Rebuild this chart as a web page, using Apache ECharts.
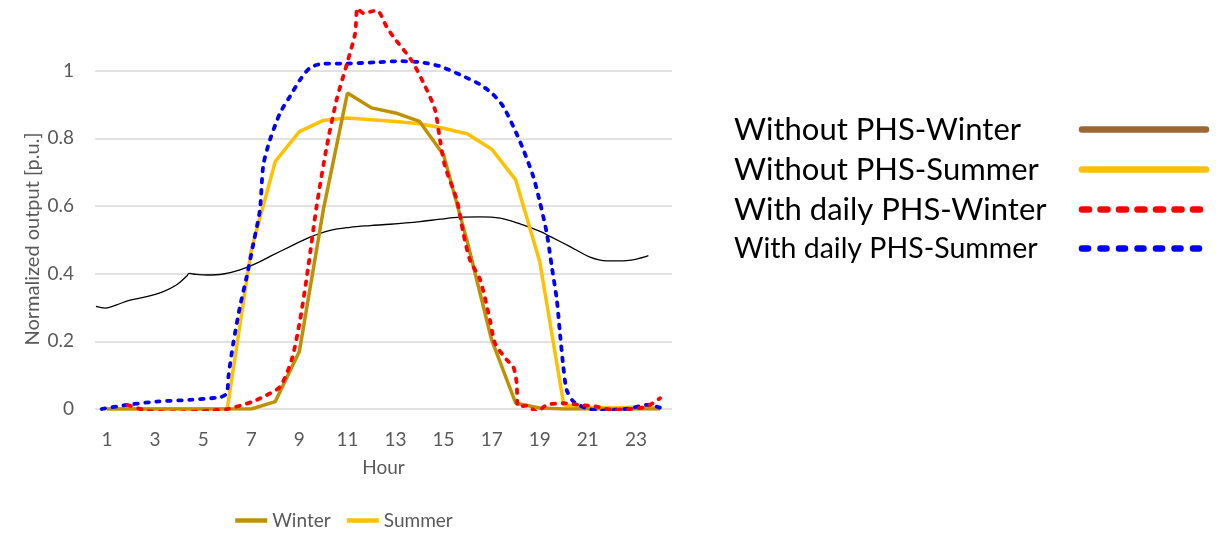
<!DOCTYPE html>
<html>
<head>
<meta charset="utf-8">
<script src="https://cdn.jsdelivr.net/npm/echarts@6/dist/echarts.min.js"></script>
<style>
html,body{margin:0;padding:0;background:#fff;}
#chart{width:1218px;height:535px;}
</style>
</head>
<body>
<div id="chart"></div>
<script>
// ---- Data ----
const hours = ['1','2','3','4','5','6','7','8','9','10','11','12','13','14','15','16','17','18','19','20','21','22','23','24'];
const yTicks = [0, 0.2, 0.4, 0.6, 0.8, 1];

const winter = [0,0,0,0,0,0,0,0.022,0.17,0.59,0.934,0.89,0.875,0.85,0.751,0.49,0.204,0.017,0.003,0,0,0,0,0];
const summer = [0,0,0,0,0,0,0.47,0.732,0.82,0.853,0.86,0.855,0.85,0.843,0.83,0.813,0.768,0.677,0.435,0.012,0.005,0.003,0.005,0.003];

// With daily PHS - Winter (dotted red), fractional hours
const redHours  = [1.86,2.72,4.04,5.56,6.02,7.07,7.64,8.2,8.68,9.03,9.37,9.72,10.14,10.55,10.97,11.32,11.42,11.66,12.22,12.63,12.91,13.67,14.23,14.64,14.85,15.06,15.55,15.82,16.1,16.52,16.93,17.14,17.63,17.9,18.04,18.1,18.46,18.87,19.29,19.98,20.68,21.37,22.06,22.76,23.45,24.0];
const redValues = [0.012,-0.006,-0.01,-0.003,0,0.022,0.041,0.066,0.145,0.263,0.42,0.6,0.776,0.914,1.018,1.11,1.185,1.17,1.178,1.13,1.1,1.03,0.954,0.885,0.796,0.717,0.618,0.52,0.44,0.382,0.263,0.194,0.145,0.125,0.076,0.007,0.01,-0.008,0.012,0.017,0.012,0.007,-0.003,0,0.007,0.032];

// With daily PHS - Summer (dotted blue), fractional hours
const blueHours  = [0.78,1.82,3.07,4.45,5.7,5.98,6.05,6.25,6.53,6.81,7.09,7.36,7.5,7.78,8.2,8.61,9.03,9.44,10.0,10.97,12.22,13.19,14.02,14.85,15.68,16.52,17.07,17.48,17.9,18.32,18.73,19.01,19.29,19.5,19.71,19.84,19.98,20.12,20.4,20.95,21.51,22.06,22.76,23.45,23.87,24.14];
const blueValues = [0,0.012,0.022,0.027,0.035,0.046,0.096,0.194,0.303,0.391,0.49,0.589,0.72,0.796,0.875,0.924,0.973,1.008,1.021,1.021,1.025,1.028,1.025,1.013,0.988,0.959,0.929,0.894,0.835,0.766,0.687,0.61,0.52,0.421,0.322,0.224,0.125,0.056,0.022,0.002,-0.005,-0.003,0.002,0.012,0.007,0];

// Thin black curve
const blackHours  = [0.54,0.92,1.4,1.96,2.65,3.34,3.9,4.32,4.41,4.59,5.15,5.84,6.53,7.23,7.78,8.61,9.44,10.28,11.11,11.94,12.77,14.02,14.85,15.68,16.52,17.35,18.18,19.01,19.43,20.26,21.09,21.79,22.48,23.03,23.52];
const blackValues = [0.303,0.298,0.308,0.322,0.332,0.347,0.367,0.393,0.401,0.399,0.396,0.399,0.411,0.431,0.451,0.48,0.508,0.528,0.537,0.542,0.546,0.554,0.561,0.567,0.568,0.564,0.547,0.525,0.51,0.48,0.449,0.438,0.438,0.443,0.453];

const rightLegendLabels = {
  'Winter': 'Without PHS-Winter',
  'Summer': 'Without PHS-Summer',
  'With daily PHS-Winter': 'With daily PHS-Winter',
  'With daily PHS-Summer': 'With daily PHS-Summer'
};

// ---- Chart ----
const zip = (xs, ys) => xs.map((x, i) => [x, ys[i]]);
const FONT = 'Lato';
const GREY = '#595959';
const HIDE_SYMBOL = {opacity: 0};

const chart = echarts.init(document.getElementById('chart'), null, {renderer: 'canvas'});
chart.setOption({
  animation: false,
  backgroundColor: '#ffffff',
  textStyle: {fontFamily: FONT},
  grid: {left: 95, right: 546, top: 3, bottom: 126, containLabel: false},
  xAxis: [
    {
      type: 'category',
      data: hours,
      boundaryGap: true,
      name: 'Hour',
      nameLocation: 'middle',
      nameGap: 49,
      nameTextStyle: {fontSize: 19, color: GREY, fontFamily: FONT},
      axisLine: {show: false},
      axisTick: {show: false},
      axisLabel: {interval: 1, fontSize: 19, color: GREY, margin: 21, fontFamily: FONT},
      splitLine: {show: false}
    },
    {
      type: 'value',
      min: 0.5,
      max: 24.5,
      show: false
    }
  ],
  yAxis: {
    type: 'value',
    min: 0,
    max: 1.2,
    interval: 0.2,
    name: 'Normalized output [p.u.]',
    nameLocation: 'middle',
    nameGap: 52,
    nameTextStyle: {fontSize: 20, color: GREY, fontFamily: FONT, padding: [0, 66, 0, 0]},
    axisLine: {show: false},
    axisTick: {show: false},
    axisLabel: {
      fontSize: 19, color: GREY, margin: 21, fontFamily: FONT,
      formatter: v => (yTicks.some(t => Math.abs(t - v) < 1e-9) ? String(+v.toFixed(1)) : '')
    },
    splitLine: {show: true, lineStyle: {color: ['#d9d9d9','#d9d9d9','#d9d9d9','#d9d9d9','#d9d9d9','#d9d9d9','rgba(0,0,0,0)'], width: 1.5}}
  },
  legend: [
    {
      data: ['Winter', 'Summer'],
      left: 228,
      top: 506,
      orient: 'horizontal',
      itemWidth: 32,
      itemHeight: 14,
      itemGap: 14,
      itemStyle: HIDE_SYMBOL,
      lineStyle: {width: 4.5},
      textStyle: {fontSize: 19, color: GREY, fontFamily: FONT},
      selectedMode: false
    },
    {
      data: [
        {name: 'Winter', itemStyle: {color: '#9c6632', opacity: 0}, lineStyle: {color: '#9c6632', width: 6.5, cap: 'round', type: 'solid'}},
        {name: 'Summer', itemStyle: HIDE_SYMBOL, lineStyle: {width: 6.5, cap: 'round', type: 'solid'}},
        {name: 'With daily PHS-Winter', itemStyle: HIDE_SYMBOL, lineStyle: {width: 6.5, cap: 'round', type: [7, 11.5]}},
        {name: 'With daily PHS-Summer', itemStyle: HIDE_SYMBOL, lineStyle: {width: 6.5, cap: 'round', type: [6, 12.5]}}
      ],
      orient: 'vertical',
      align: 'right',
      left: 729,
      top: 109,
      itemWidth: 124,
      itemHeight: 14,
      itemGap: 9,
      itemStyle: HIDE_SYMBOL,
      selectedMode: false,
      formatter: name => (name === 'With daily PHS-Summer' ? '{b|' : '{a|') + rightLegendLabels[name] + '}',
      textStyle: {
        rich: {
          a: {width: 343, align: 'left', fontSize: 31, lineHeight: 34, color: '#000', fontFamily: FONT},
          b: {width: 343, align: 'left', fontSize: 28.5, lineHeight: 34, color: '#000', fontFamily: FONT}
        }
      }
    }
  ],
  series: [
    {
      name: 'Load',
      type: 'line',
      xAxisIndex: 1,
      data: zip(blackHours, blackValues),
      symbol: 'none',
      smooth: 0.35,
      lineStyle: {color: '#000000', width: 1.3},
      z: 2
    },
    {
      name: 'Summer',
      type: 'line',
      xAxisIndex: 0,
      data: summer,
      symbol: 'none',
      color: '#ffc000',
      lineStyle: {color: '#ffc000', width: 3.5},
      z: 3
    },
    {
      name: 'Winter',
      type: 'line',
      xAxisIndex: 0,
      data: winter,
      symbol: 'none',
      color: '#bf9000',
      lineStyle: {color: '#bf9000', width: 3.5},
      z: 4
    },
    {
      name: 'With daily PHS-Summer',
      type: 'line',
      xAxisIndex: 1,
      data: zip(blueHours, blueValues),
      symbol: 'none',
      smooth: 0.25,
      color: '#0000ff',
      lineStyle: {color: '#0000ff', width: 3.8, type: [3.5, 7.5], cap: 'round'},
      z: 5
    },
    {
      name: 'With daily PHS-Winter',
      type: 'line',
      xAxisIndex: 1,
      data: zip(redHours, redValues),
      symbol: 'none',
      smooth: 0.25,
      color: '#ff0000',
      lineStyle: {color: '#ff0000', width: 3.8, type: [3.5, 7.5], cap: 'round'},
      z: 6
    }
  ]
});
</script>
</body>
</html>
